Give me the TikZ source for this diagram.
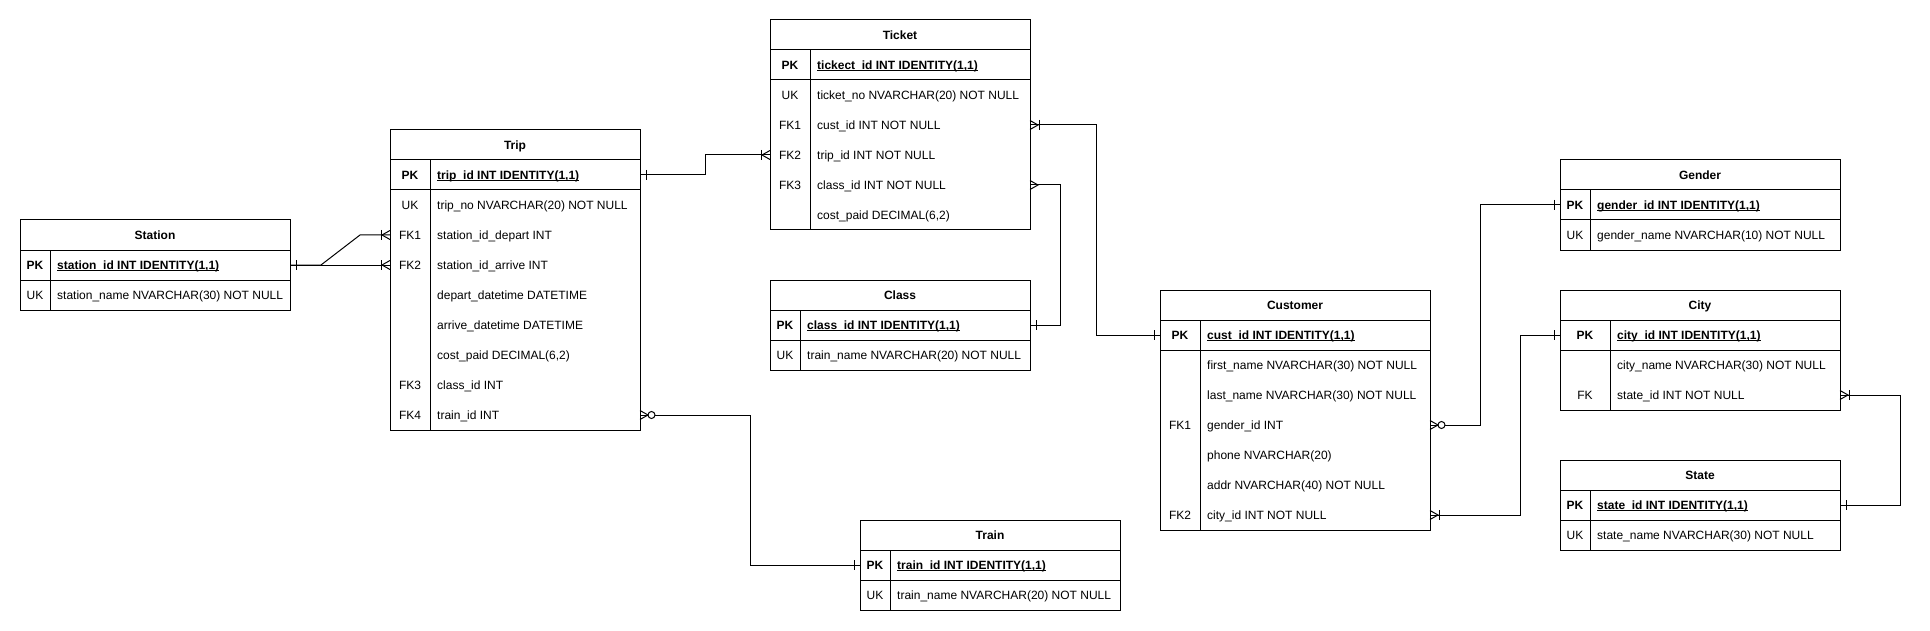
\documentclass[tikz,border=0pt]{standalone}
\usepackage{fontspec}
\setmainfont{Liberation Sans}
\usetikzlibrary{calc}
\newcommand\tfont{\fontsize{12pt}{14pt}\selectfont}
\newcommand\ulx[1]{\setbox0\hbox{#1}\rlap{\rule[-1.8pt]{\wd0}{0.8pt}}\box0}
\tikzset{
 hdr/.style={anchor=north west, minimum height=30pt, inner sep=0pt, outer sep=0pt, font=\tfont\bfseries, text height=10.8pt, text depth=2.5pt},
 rowbox/.style={anchor=north west, minimum height=30pt, inner sep=0pt, outer sep=0pt},
 keytxt/.style={inner sep=0pt, font=\tfont, text height=10.8pt, text depth=2.5pt},
 valtxt/.style={anchor=west, inner sep=0pt, font=\tfont, text height=10.8pt, text depth=2.5pt},
 pk/.style={font=\tfont\bfseries},
 frame/.style={draw=black, line width=1pt},
 conn/.style={draw=black, line width=1pt},
}
\newcommand\tabhead[5]{\node[hdr,minimum width=#4pt] (#1) at (#2,#3) {#5};}
\newcommand\tabrow[8]{%
 \node[rowbox,minimum width=#4pt] (#1) at (#2,#3) {};
 \node[keytxt,#8] (#1k) at (#2+#5/2,#3+15) {#6};
 \node[valtxt,#8] (#1v) at (#2+#5+7,#3+15) {#7};}
\newcommand\tabframe[4]{%
 \draw[frame] (#1.north west) rectangle (#3.south east);
 \draw[frame] (#1.south west) -- (#1.south east);
 \draw[frame] (#2.south west) -- (#2.south east);
 \draw[frame] ($(#2.north west)+(#4,0)$) -- ($(#3.south west)+(#4,0)$);}
\newcommand\mOne[2]{\draw[conn] ($(#1)+(#2*6,-5)$) -- ($(#1)+(#2*6,5)$);}
\newcommand\mCrow[2]{\draw[conn] ($(#1)+(0,-4.5)$) -- ($(#1)+(#2*8,0)$) -- ($(#1)+(0,4.5)$);}
\newcommand\mOneMany[2]{\mCrow{#1}{#2}\draw[conn] ($(#1)+(#2*9,-5)$) -- ($(#1)+(#2*9,5)$);}
\newcommand\mZeroMany[2]{\mCrow{#1}{#2}\draw[conn,fill=white] ($(#1)+(#2*11.5,0)$) circle[radius=3.5pt];}
\begin{document}
\begin{tikzpicture}[x=1pt,y=-1pt]
\useasboundingbox[fill=white] (0,0) rectangle (1930,631);
% Station
\tabhead{stH}{20}{220}{270}{Station}
\tabrow{stPK}{20}{250}{270}{30}{PK}{\ulx{station\_id INT IDENTITY(1,1)}}{pk}
\tabrow{stUK}{20}{280}{270}{30}{UK}{station\_name NVARCHAR(30) NOT NULL}{}
\tabframe{stH}{stPK}{stUK}{30}
% Trip
\tabhead{trH}{390}{130}{250}{Trip}
\tabrow{trPK}{390}{160}{250}{40}{PK}{\ulx{trip\_id INT IDENTITY(1,1)}}{pk}
\tabrow{trUK}{390}{190}{250}{40}{UK}{trip\_no NVARCHAR(20) NOT NULL}{}
\tabrow{trFKa}{390}{220}{250}{40}{FK1}{station\_id\_depart INT}{}
\tabrow{trFKb}{390}{250}{250}{40}{FK2}{station\_id\_arrive INT}{}
\tabrow{trDep}{390}{280}{250}{40}{}{depart\_datetime DATETIME}{}
\tabrow{trArr}{390}{310}{250}{40}{}{arrive\_datetime DATETIME}{}
\tabrow{trCost}{390}{340}{250}{40}{}{cost\_paid DECIMAL(6,2)}{}
\tabrow{trFKc}{390}{370}{250}{40}{FK3}{class\_id INT}{}
\tabrow{trFKd}{390}{400}{250}{40}{FK4}{train\_id INT}{}
\tabframe{trH}{trPK}{trFKd}{40}
% Ticket
\tabhead{tkH}{770}{20}{260}{Ticket}
\tabrow{tkPK}{770}{50}{260}{40}{PK}{\ulx{tickect\_id INT IDENTITY(1,1)}}{pk}
\tabrow{tkUK}{770}{80}{260}{40}{UK}{ticket\_no NVARCHAR(20) NOT NULL}{}
\tabrow{tkFKa}{770}{110}{260}{40}{FK1}{cust\_id INT NOT NULL}{}
\tabrow{tkFKb}{770}{140}{260}{40}{FK2}{trip\_id INT NOT NULL}{}
\tabrow{tkFKc}{770}{170}{260}{40}{FK3}{class\_id INT NOT NULL}{}
\tabrow{tkCost}{770}{200}{260}{40}{}{cost\_paid DECIMAL(6,2)}{}
\tabframe{tkH}{tkPK}{tkCost}{40}
% Class
\tabhead{clH}{770}{280}{260}{Class}
\tabrow{clPK}{770}{310}{260}{30}{PK}{\ulx{class\_id INT IDENTITY(1,1)}}{pk}
\tabrow{clUK}{770}{340}{260}{30}{UK}{train\_name NVARCHAR(20) NOT NULL}{}
\tabframe{clH}{clPK}{clUK}{30}
% Train
\tabhead{tnH}{860}{520}{260}{Train}
\tabrow{tnPK}{860}{550}{260}{30}{PK}{\ulx{train\_id INT IDENTITY(1,1)}}{pk}
\tabrow{tnUK}{860}{580}{260}{30}{UK}{train\_name NVARCHAR(20) NOT NULL}{}
\tabframe{tnH}{tnPK}{tnUK}{30}
% Customer
\tabhead{cuH}{1160}{290}{270}{Customer}
\tabrow{cuPK}{1160}{320}{270}{40}{PK}{\ulx{cust\_id INT IDENTITY(1,1)}}{pk}
\tabrow{cuFirst}{1160}{350}{270}{40}{}{first\_name NVARCHAR(30) NOT NULL}{}
\tabrow{cuLast}{1160}{380}{270}{40}{}{last\_name NVARCHAR(30) NOT NULL}{}
\tabrow{cuFKa}{1160}{410}{270}{40}{FK1}{gender\_id INT}{}
\tabrow{cuPhone}{1160}{440}{270}{40}{}{phone NVARCHAR(20)}{}
\tabrow{cuAddr}{1160}{470}{270}{40}{}{addr NVARCHAR(40) NOT NULL}{}
\tabrow{cuFKb}{1160}{500}{270}{40}{FK2}{city\_id INT NOT NULL}{}
\tabframe{cuH}{cuPK}{cuFKb}{40}
% Gender
\tabhead{geH}{1560}{160}{280}{Gender}
\tabrow{gePK}{1560}{190}{280}{30}{PK}{\ulx{gender\_id INT IDENTITY(1,1)}}{pk}
\tabrow{geUK}{1560}{220}{280}{30}{UK}{gender\_name NVARCHAR(10) NOT NULL}{}
\tabframe{geH}{gePK}{geUK}{30}
% City
\tabhead{ciH}{1560}{290}{280}{City}
\tabrow{ciPK}{1560}{320}{280}{50}{PK}{\ulx{city\_id INT IDENTITY(1,1)}}{pk}
\tabrow{ciName}{1560}{350}{280}{50}{}{city\_name NVARCHAR(30) NOT NULL}{}
\tabrow{ciFK}{1560}{380}{280}{50}{FK}{state\_id INT NOT NULL}{}
\tabframe{ciH}{ciPK}{ciFK}{50}
% State
\tabhead{saH}{1560}{460}{280}{State}
\tabrow{saPK}{1560}{490}{280}{30}{PK}{\ulx{state\_id INT IDENTITY(1,1)}}{pk}
\tabrow{saUK}{1560}{520}{280}{30}{UK}{state\_name NVARCHAR(30) NOT NULL}{}
\tabframe{saH}{saPK}{saUK}{30}
% connectors
\draw[conn] (stPK.east) -- ++(31,0) -- ($(trFKa.west)+(-30,0)$) -- (trFKa.west);
\draw[conn] (stPK.east) -- (trFKb.west);
\mOne{stPK.east}{1}
\mOneMany{trFKa.west}{-1}
\mOneMany{trFKb.west}{-1}
\draw[conn] (trPK.east) -- ++(65,0) |- (tkFKb.west);
\mOne{trPK.east}{1}
\mOneMany{tkFKb.west}{-1}
\draw[conn] (tkFKa.east) -- ++(66,0) |- (cuPK.west);
\mOneMany{tkFKa.east}{1}
\mOne{cuPK.west}{-1}
\draw[conn] (tkFKc.east) -- ++(30,0) |- (clPK.east);
\mCrow{tkFKc.east}{1}
\mOne{clPK.east}{1}
\draw[conn] (trFKd.east) -- ++(110,0) |- (tnPK.west);
\mZeroMany{trFKd.east}{1}
\mOne{tnPK.west}{-1}
\draw[conn] (cuFKa.east) -- ++(50,0) |- (gePK.west);
\mZeroMany{cuFKa.east}{1}
\mOne{gePK.west}{-1}
\draw[conn] (cuFKb.east) -- ++(90,0) |- (ciPK.west);
\mOneMany{cuFKb.east}{1}
\mOne{ciPK.west}{-1}
\draw[conn] (ciFK.east) -- ++(60,0) |- (saPK.east);
\mOneMany{ciFK.east}{1}
\mOne{saPK.east}{1}
\end{tikzpicture}
\end{document}
